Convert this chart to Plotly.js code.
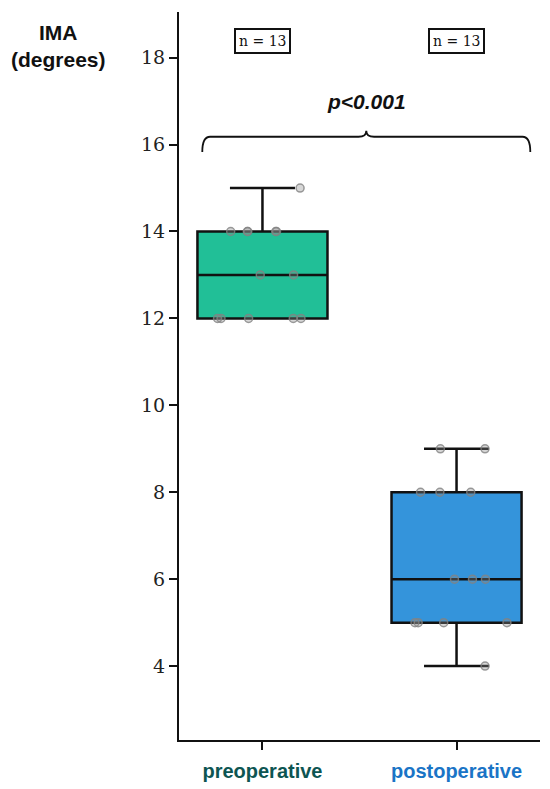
<!DOCTYPE html>
<html>
<head>
<meta charset="utf-8">
<script src="https://cdn.plot.ly/plotly-3.0.1.min.js"></script>
<style>html,body{margin:0;padding:0;background:#fff;}#chart{width:550px;height:789px;}</style>
</head>
<body>
<div id="chart"></div>
<script>
const categories = ["preoperative", "postoperative"];
const preoperative = [15, 14, 14, 14, 14, 14, 13, 13, 12, 12, 12, 12, 12];
const postoperative = [9, 9, 8, 8, 8, 6, 6, 6, 5, 5, 5, 5, 4];
const tickColors = ["#0d5552", "#1a74c6"];
const boxColors = ["#21bf97", "#3494db"];
const sampleLabels = ["n = " + preoperative.length, "n = " + postoperative.length];
const pLabel = "p<0.001";
const yTicks = [4, 6, 8, 10, 12, 14, 16, 18];

const series = [preoperative, postoperative];
const traces = series.map((vals, i) => ({
  type: "box",
  y: vals,
  x0: i,
  name: categories[i],
  width: 0.67,
  whiskerwidth: 0.5,
  fillcolor: boxColors[i],
  line: {color: "#111", width: 2.5},
  boxpoints: "all",
  jitter: 1,
  pointpos: 0,
  quartilemethod: "linear",
  marker: {size: 8, color: "rgba(140,140,140,0.35)", line: {color: "rgba(130,130,130,0.8)", width: 1.5}},
  hoverinfo: "y",
  showlegend: false
}));

// curly brace spanning both groups
const x0 = -0.31, x1 = 1.38, xm = 0.535;
const yH = 16.18, yEnd = 15.83, yTip = 16.32, dx = 0.04;
const bracePath = `M ${x0},${yEnd} Q ${x0},${yH} ${x0+dx},${yH} L ${xm-dx},${yH} Q ${xm},${yH} ${xm},${yTip} Q ${xm},${yH} ${xm+dx},${yH} L ${x1-dx},${yH} Q ${x1},${yH} ${x1},${yEnd}`;

const layout = {
  width: 550, height: 789,
  margin: {l: 179, r: 10, t: 12, b: 49},
  paper_bgcolor: "#fff", plot_bgcolor: "#fff",
  showlegend: false,
  xaxis: {
    range: [-0.43, 1.43],
    tickvals: [0, 1],
    ticktext: categories.map((c, i) => `<span style="color:${tickColors[i]}"><b>${c}</b></span>`),
    tickfont: {family: "Liberation Sans, Arial, sans-serif", size: 20},
    ticks: "outside", ticklen: 8, tickwidth: 2, tickcolor: "#111",
    ticklabelstandoff: 4,
    showline: true, linecolor: "#111", linewidth: 2,
    showgrid: false, zeroline: false
  },
  yaxis: {
    range: [2.3, 19.05],
    tickvals: yTicks,
    tickfont: {family: "DejaVu Serif, serif", size: 19, color: "#222"},
    ticks: "outside", ticklen: 8, tickwidth: 2, tickcolor: "#111",
    showline: true, linecolor: "#111", linewidth: 2,
    showgrid: false, zeroline: false
  },
  shapes: [{type: "path", xref: "x", yref: "y", path: bracePath, line: {color: "#111", width: 1.8}}],
  annotations: [
    {xref: "paper", yref: "paper", x: -0.335, y: 0.99, xanchor: "center", yanchor: "top", showarrow: false,
     text: "<b>IMA</b><br><b>(degrees)</b>", align: "center",
     font: {family: "Liberation Sans, Arial, sans-serif", size: 21, color: "#111"}},
    ...sampleLabels.map((t, i) => ({
      xref: "x", yref: "y", x: i, y: 18.39, showarrow: false, text: t,
      font: {family: "DejaVu Serif, serif", size: 14, color: "#111"},
      bordercolor: "#111", borderwidth: 2, borderpad: 3, bgcolor: "#fff"
    })),
    {xref: "x", yref: "y", x: 0.535, y: 17.0, showarrow: false, text: "<b><i>" + pLabel + "</i></b>",
     font: {family: "Liberation Sans, Arial, sans-serif", size: 21, color: "#111"}}
  ]
};

Plotly.newPlot("chart", traces, layout, {displayModeBar: false, staticPlot: true});
</script>
</body>
</html>
